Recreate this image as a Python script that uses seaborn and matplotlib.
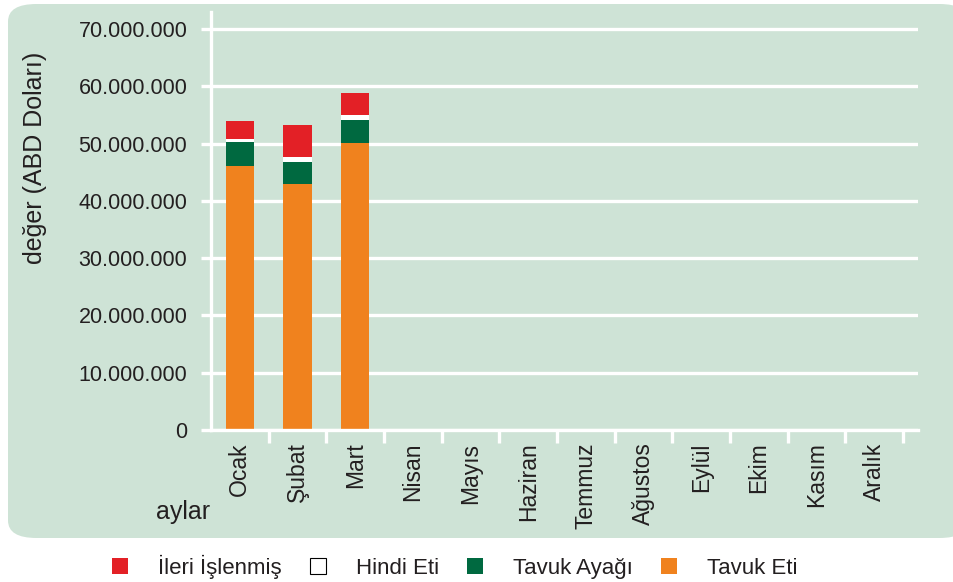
import pandas as pd
import seaborn as sns
import matplotlib.pyplot as plt
from matplotlib import font_manager
from matplotlib.patches import FancyBboxPatch, Patch
from matplotlib.ticker import FuncFormatter, FixedLocator
import numpy as np

months = ['Ocak', 'Şubat', 'Mart', 'Nisan', 'Mayıs', 'Haziran', 'Temmuz',
          'Ağustos', 'Eylül', 'Ekim', 'Kasım', 'Aralık']
# values in USD, only first three months have data
tavuk_eti = [46100000, 43000000, 50100000] + [0] * 9
tavuk_ayagi = [4200000, 3800000, 4100000] + [0] * 9
hindi_eti = [500000, 900000, 800000] + [0] * 9
ileri_islenmis = [3200000, 5600000, 3900000] + [0] * 9

series = ['İleri İşlenmiş', 'Hindi Eti', 'Tavuk Ayağı', 'Tavuk Eti']
colors = {'İleri İşlenmiş': '#e32026', 'Hindi Eti': '#ffffff',
          'Tavuk Ayağı': '#006940', 'Tavuk Eti': '#f0821e'}

available = {f.name for f in font_manager.fontManager.ttflist}
fam = 'Liberation Sans Narrow' if 'Liberation Sans Narrow' in available else 'Liberation Sans'
plt.rcParams['font.family'] = [fam, 'DejaVu Sans']

df = pd.DataFrame({'ay': months, 'Tavuk Eti': tavuk_eti, 'Tavuk Ayağı': tavuk_ayagi,
                   'Hindi Eti': hindi_eti, 'İleri İşlenmiş': ileri_islenmis})
# cumulative stacks, bottom to top
df['c_orange'] = df['Tavuk Eti']
df['c_green'] = df['c_orange'] + df['Tavuk Ayağı']
df['c_white'] = df['c_green'] + df['Hindi Eti']
df['c_red'] = df['c_white'] + df['İleri İşlenmiş']

bg = '#cee3d6'
txt = '#231f20'
fig = plt.figure(figsize=(9.54, 5.82), dpi=100)
fig.patch.set_facecolor('white')
panel = FancyBboxPatch((8 / 954, 1 - 538 / 582), 960 / 954, 534 / 582,
                       boxstyle='round,pad=0,rounding_size=0.03',
                       transform=fig.transFigure, facecolor=bg, edgecolor='none', zorder=0)
fig.patches.append(panel)

ax = fig.add_axes([211 / 954, 1 - 430 / 582, (918 - 211) / 954, (430 - 12) / 582])
ax.set_zorder(2)
ax.patch.set_alpha(0)

for col, name in [('c_red', 'İleri İşlenmiş'), ('c_white', 'Hindi Eti'),
                  ('c_green', 'Tavuk Ayağı'), ('c_orange', 'Tavuk Eti')]:
    sns.barplot(data=df, x='ay', y=col, order=months, color=colors[name],
                width=0.49, linewidth=0, saturation=1, ax=ax, zorder=3)

ax.set_xlim(-0.5, 11.76)
ax.set_ylim(0, 73000000)
ax.yaxis.set_major_locator(FixedLocator(np.arange(0, 70000001, 10000000)))
ax.yaxis.set_major_formatter(FuncFormatter(lambda v, p: f'{v:,.0f}'.replace(',', '.')))
ax.grid(axis='y', color='white', linewidth=2.4, zorder=1)
ax.set_axisbelow(True)
for s in ['top', 'right']:
    ax.spines[s].set_visible(False)
for s in ['left', 'bottom']:
    ax.spines[s].set_color('white')
    ax.spines[s].set_linewidth(2.4)
    ax.spines[s].set_zorder(4)

ax.tick_params(axis='y', length=7, width=2.4, color='white', labelsize=15.5,
               labelcolor=txt, pad=10)
ax.tick_params(axis='x', which='major', length=0, labelsize=16.5, labelcolor=txt,
               pad=9, labelrotation=90)
ax.xaxis.set_minor_locator(FixedLocator(np.arange(0.5, 12, 1)))
ax.tick_params(axis='x', which='minor', length=9, width=2.4, color='white')
for lab in ax.get_xticklabels():
    lab.set_verticalalignment('top')

ax.set_xlabel('')
ax.set_ylabel('')
fig.text(35 / 954, 1 - 158 / 582, 'değer (ABD Doları)', fontsize=18, color=txt,
         rotation=90, ha='center', va='center')
fig.text(183 / 954, 1 - 512 / 582, 'aylar', fontsize=18, color=txt,
         ha='center', va='center')

handles = [Patch(facecolor=colors[s], edgecolor='black' if s == 'Hindi Eti' else 'none',
                 linewidth=0.8) for s in series]
fig.legend(handles, series, loc='center', bbox_to_anchor=(455 / 954, 1 - 567 / 582),
           ncol=4, frameon=False, fontsize=16, handlelength=0.72, handleheight=0.72,
           handletextpad=1.35, columnspacing=1.26, labelcolor=txt)

plt.savefig('out.png', dpi=100)
